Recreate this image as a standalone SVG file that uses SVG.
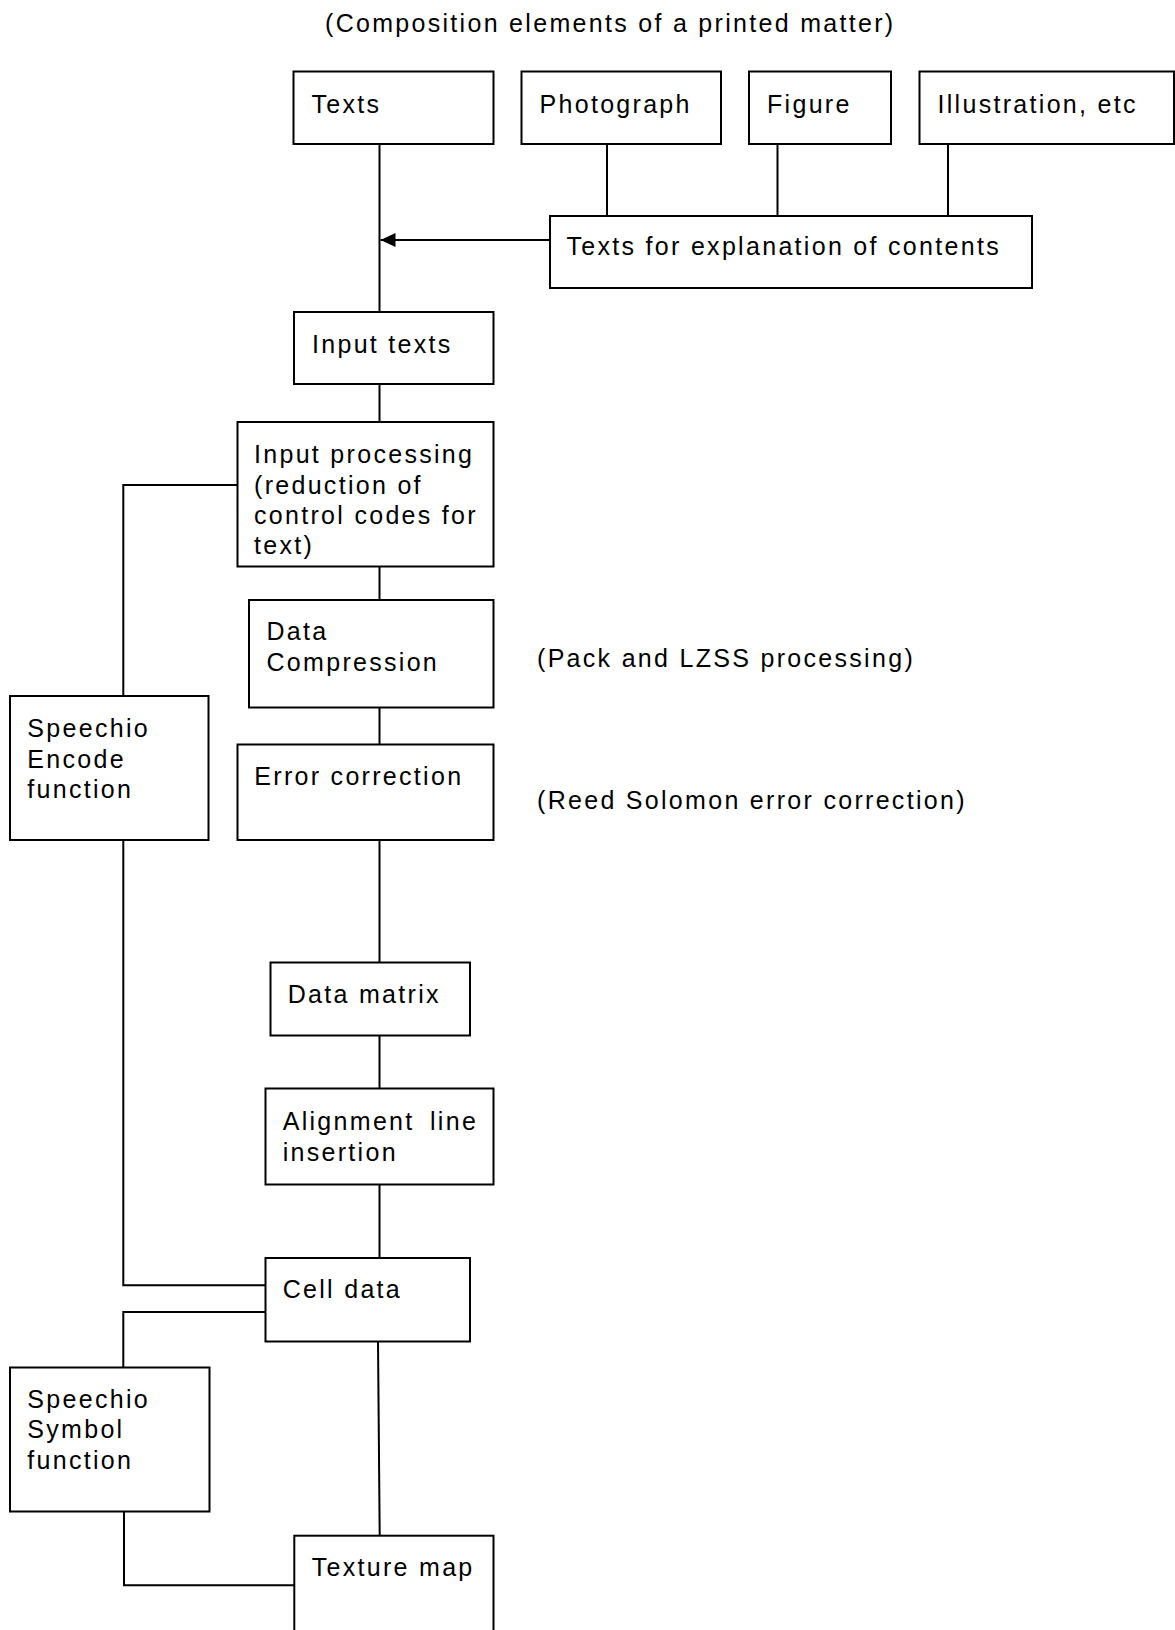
<svg xmlns="http://www.w3.org/2000/svg" width="1175" height="1630" viewBox="0 0 1175 1630">
<style>
.box{fill:#fff;stroke:#000;stroke-width:2}
.ln{fill:none;stroke:#000;stroke-width:2}
text{font-family:"Liberation Sans",Arial,sans-serif;font-size:25px;letter-spacing:2.3px;fill:#000}
</style>
<defs>
<marker id="arr" markerUnits="userSpaceOnUse" markerWidth="16" markerHeight="14" refX="15" refY="7" orient="auto">
<path d="M0,0 L15,7 L0,14 Z" fill="#000"/>
</marker>
</defs>
<rect width="1175" height="1630" fill="#fff"/>
<text id="title" x="325" y="32">(Composition elements of a printed matter)</text>
<g id="connectors">
<line class="ln" x1="379.5" y1="144" x2="379.5" y2="312"/>
<line class="ln" x1="607" y1="144" x2="607" y2="216"/>
<line class="ln" x1="777.5" y1="144" x2="777.5" y2="216"/>
<line class="ln" x1="948" y1="144" x2="948" y2="216"/>
<line class="ln" x1="550" y1="240" x2="380.5" y2="240" marker-end="url(#arr)"/>
<line class="ln" x1="379.5" y1="384" x2="379.5" y2="422"/>
<polyline class="ln" points="237.5,485 123.3,485 123.3,696"/>
<line class="ln" x1="379.5" y1="566.5" x2="379.5" y2="600"/>
<line class="ln" x1="379.5" y1="707.5" x2="379.5" y2="744.5"/>
<line class="ln" x1="379.5" y1="840" x2="379.5" y2="962.5"/>
<line class="ln" x1="379.5" y1="1035.5" x2="379.5" y2="1088.5"/>
<line class="ln" x1="379.5" y1="1184.5" x2="379.5" y2="1258"/>
<polyline class="ln" points="123.3,840 123.3,1285.3 265.5,1285.3"/>
<polyline class="ln" points="265.5,1312 123.3,1312 123.3,1367.5"/>
<polyline class="ln" points="124,1511.5 124,1585.3 294.3,1585.3"/>
<line class="ln" x1="378" y1="1341.5" x2="379.7" y2="1535.7"/>
</g>
<g id="texts"><rect class="box" x="293.5" y="71.5" width="200" height="72.5"/><text x="311.5" y="112.5">Texts</text></g>
<g id="photograph"><rect class="box" x="521.5" y="71.5" width="199.5" height="72.5"/><text x="539.5" y="112.5">Photograph</text></g>
<g id="figure"><rect class="box" x="749" y="71.5" width="142" height="72.5"/><text x="767" y="112.5">Figure</text></g>
<g id="illustration"><rect class="box" x="919.5" y="71.5" width="254.5" height="72.5"/><text x="937.5" y="112.5">Illustration, etc</text></g>
<g id="explanation"><rect class="box" x="550" y="216" width="482" height="72"/><text x="566.5" y="255">Texts for explanation of contents</text></g>
<g id="input-texts"><rect class="box" x="294" y="312" width="199.5" height="72"/><text x="312" y="352.7">Input texts</text></g>
<g id="input-processing"><rect class="box" x="237.5" y="422" width="256" height="144.5"/>
<text x="254" y="463">Input processing</text><text x="254" y="494">(reduction of</text><text x="254" y="524">control codes for</text><text x="254" y="554">text)</text></g>
<g id="data-compression"><rect class="box" x="249" y="600" width="244.5" height="107.5"/><text x="266.5" y="640">Data</text><text x="266.5" y="671">Compression</text></g>
<text id="note-pack" x="537" y="667">(Pack and LZSS processing)</text>
<g id="error-correction"><rect class="box" x="237.5" y="744.5" width="256" height="95.5"/><text x="254.3" y="785">Error correction</text></g>
<text id="note-rs" x="537" y="809">(Reed Solomon error correction)</text>
<g id="speechio-encode"><rect class="box" x="10" y="696" width="198.5" height="144"/><text x="27.3" y="737">Speechio</text><text x="27.3" y="767.5">Encode</text><text x="27.3" y="798">function</text></g>
<g id="data-matrix"><rect class="box" x="270.5" y="962.5" width="199.5" height="73"/><text x="287.7" y="1003.3">Data matrix</text></g>
<g id="alignment"><rect class="box" x="265.5" y="1088.5" width="228" height="96"/><text x="282.7" y="1130">Alignment</text><text x="430" y="1130">line</text><text x="282.7" y="1160.7">insertion</text></g>
<g id="cell-data"><rect class="box" x="265.5" y="1258" width="204.5" height="83.5"/><text x="282.7" y="1298.3">Cell data</text></g>
<g id="speechio-symbol"><rect class="box" x="10" y="1367.5" width="199.5" height="144"/><text x="27.3" y="1407.7">Speechio</text><text x="27.3" y="1438.3">Symbol</text><text x="27.3" y="1469.3">function</text></g>
<g id="texture-map"><rect class="box" x="294.3" y="1535.7" width="199.2" height="110"/><text x="311.7" y="1576">Texture map</text></g>
</svg>
